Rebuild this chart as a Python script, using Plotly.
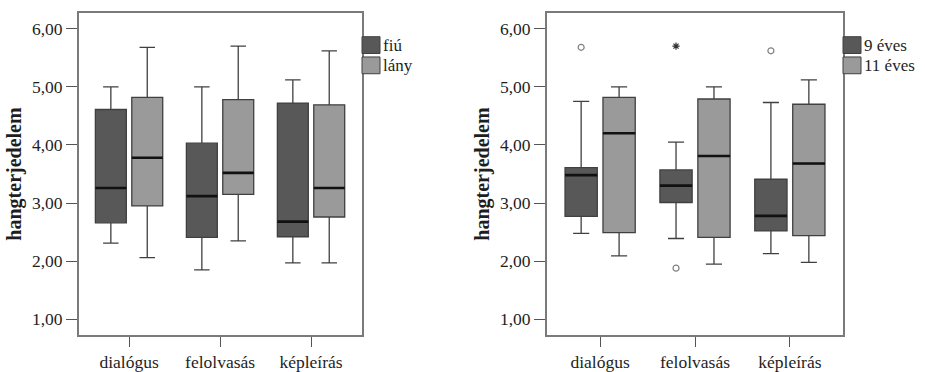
import plotly.graph_objects as go

categories = ["dialógus", "felolvasás", "képleírás"]
y_ticks = [1, 2, 3, 4, 5, 6]

# Left panel: gender
fiu_lower = [2.31, 1.85, 1.97]
fiu_q1 = [2.66, 2.41, 2.42]
fiu_median = [3.26, 3.12, 2.68]
fiu_q3 = [4.61, 4.03, 4.72]
fiu_upper = [5.00, 5.00, 5.12]

lany_lower = [2.06, 2.35, 1.97]
lany_q1 = [2.95, 3.15, 2.76]
lany_median = [3.78, 3.52, 3.26]
lany_q3 = [4.82, 4.78, 4.69]
lany_upper = [5.68, 5.70, 5.62]

# Right panel: age
ev9_lower = [2.48, 2.39, 2.13]
ev9_q1 = [2.77, 3.01, 2.52]
ev9_median = [3.48, 3.30, 2.78]
ev9_q3 = [3.61, 3.57, 3.41]
ev9_upper = [4.75, 4.05, 4.73]
ev9_outlier_cat = [0, 1, 1, 2]
ev9_outlier_val = [5.68, 5.70, 1.88, 5.62]
ev9_outlier_kind = ["o", "*", "o", "o"]

ev11_lower = [2.09, 1.95, 1.98]
ev11_q1 = [2.49, 2.41, 2.44]
ev11_median = [4.20, 3.81, 3.68]
ev11_q3 = [4.82, 4.79, 4.70]
ev11_upper = [5.00, 5.00, 5.12]

left_legend = ["fiú", "lány"]
right_legend = ["9 éves", "11 éves"]

DARK = "#585858"
LIGHT = "#9a9a9a"
OUTLINE = "#404040"
FRAME = "#7a7a7a"
TEXT = "#1e1e1e"
FONT = "Liberation Serif"
OFF = 0.2
BW = 0.34
W, H = 925, 372
MT, MB = 13, 33
PH = H - MT - MB

fig = go.Figure()


def add_box(xa, ya, offset, lower, q1, med, q3, upper, fill):
    xs = [i + offset for i in range(len(categories))]
    fig.add_trace(go.Box(
        x=xs, q1=q1, median=med, q3=q3, lowerfence=lower, upperfence=upper,
        width=BW, fillcolor=fill, line=dict(color=OUTLINE, width=1.3),
        whiskerwidth=0.5, boxpoints=False, showlegend=False,
        xaxis=xa, yaxis=ya, hoverinfo="skip"))
    # thick median line
    fig.add_trace(go.Box(
        x=xs, q1=med, median=med, q3=med, lowerfence=med, upperfence=med,
        width=BW, fillcolor="rgba(0,0,0,0)", line=dict(color="#111111", width=2.6),
        whiskerwidth=0, boxpoints=False, showlegend=False,
        xaxis=xa, yaxis=ya, hoverinfo="skip"))


add_box("x", "y", -OFF, fiu_lower, fiu_q1, fiu_median, fiu_q3, fiu_upper, DARK)
add_box("x", "y", OFF, lany_lower, lany_q1, lany_median, lany_q3, lany_upper, LIGHT)
add_box("x2", "y2", -OFF, ev9_lower, ev9_q1, ev9_median, ev9_q3, ev9_upper, DARK)
add_box("x2", "y2", OFF, ev11_lower, ev11_q1, ev11_median, ev11_q3, ev11_upper, LIGHT)

# outliers
for kind, sym, size, col in [("o", "circle-open", 6, "#808080"), ("*", "asterisk-open", 6, "#333333")]:
    xs = [c - OFF for c, k in zip(ev9_outlier_cat, ev9_outlier_kind) if k == kind]
    ys = [v for v, k in zip(ev9_outlier_val, ev9_outlier_kind) if k == kind]
    fig.add_trace(go.Scatter(
        x=xs, y=ys, mode="markers", xaxis="x2", yaxis="y2", showlegend=False,
        hoverinfo="skip",
        marker=dict(symbol=sym, size=size, color=col, line=dict(width=1.2, color=col))))


# manual legends (swatch + label), positioned in pixels converted to paper units
def px(xp):
    return xp / W


def py(yp):
    return (H - MB - yp) / PH


shapes = []
annotations = []
for labels, x0 in [(left_legend, 362), (right_legend, 843)]:
    for j, (lab, col) in enumerate(zip(labels, [DARK, LIGHT])):
        top = 37 + j * 20.5
        shapes.append(dict(type="rect", xref="paper", yref="paper",
                           x0=px(x0), x1=px(x0 + 18), y0=py(top + 17), y1=py(top),
                           fillcolor=col, line=dict(color=OUTLINE, width=1)))
        annotations.append(dict(xref="paper", yref="paper", x=px(x0 + 19), y=py(top + 8.5),
                                xanchor="left", yanchor="middle", text=lab, showarrow=False,
                                font=dict(family=FONT, size=17, color=TEXT)))

axis_common = dict(
    showline=True, mirror=True, linecolor=FRAME, linewidth=1.8,
    ticks="outside", tickcolor="#555555", tickwidth=1.3, showgrid=False, zeroline=False,
    tickfont=dict(family=FONT, size=17.5, color=TEXT))

title_common = dict(text="<b>hangterjedelem</b>", standoff=5,
                    font=dict(family=FONT, size=20, color=TEXT))

fig.update_layout(
    width=W, height=H, margin=dict(l=0, r=0, t=MT, b=MB),
    paper_bgcolor="white", plot_bgcolor="white",
    separators=",.",
    font=dict(family=FONT, size=17, color=TEXT),
    boxmode="overlay",
    showlegend=False,
    shapes=shapes,
    annotations=annotations,
    xaxis=dict(domain=[79 / W, 362 / W], range=[-0.55, 2.56], tickvals=[0, 1, 2],
               ticktext=categories, ticklen=10, anchor="y", **axis_common),
    yaxis=dict(domain=[0, 1], range=[0.73, 6.27], tickvals=y_ticks, tickformat=".2f",
               ticklen=11, anchor="x", title=title_common, **axis_common),
    xaxis2=dict(domain=[547 / W, 843 / W], range=[-0.56, 2.56], tickvals=[0, 1, 2],
                ticktext=categories, ticklen=10, anchor="y2", **axis_common),
    yaxis2=dict(domain=[0, 1], range=[0.73, 6.27], tickvals=y_ticks, tickformat=".2f",
                ticklen=11, anchor="x2", title=title_common, **axis_common),
)

fig.write_html("out.html")
